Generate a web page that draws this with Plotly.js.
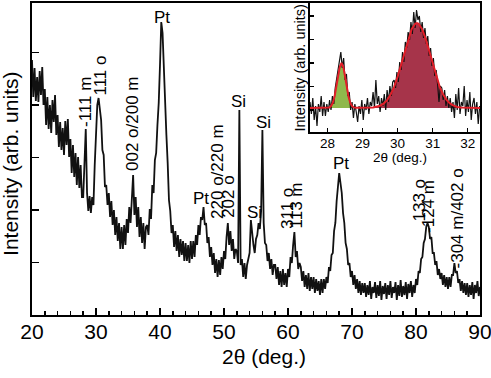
<!DOCTYPE html>
<html>
<head>
<meta charset="utf-8">
<script src="https://cdn.plot.ly/plotly-3.0.1.min.js"></script>
<style>
  html, body { margin: 0; padding: 0; background: #ffffff; }
  #chart { width: 491px; height: 378px; }
</style>
</head>
<body>
<div id="chart"></div>
<script>
// ---- Main XRD scan: 2θ from 20° to 90°, 0.2° step ----
const scanStart = 20;
const scanStep = 0.2;
const intensity = [
  255, 218, 247, 214, 238, 213, 244, 220, 248, 210,
  226, 190, 218, 186, 210, 182, 215, 193, 220, 180,
  200, 168, 193, 165, 187, 160, 194, 170, 196, 158,
  176, 142, 170, 138, 162, 130, 158, 127, 150, 118,
  118, 152, 186, 122, 104, 119, 102, 118, 110, 150,
  180, 210, 217, 205, 195, 165, 160, 128, 130, 110,
  122, 98, 114, 90, 105, 80, 98, 74, 92, 66,
  88, 66, 90, 70, 96, 82, 108, 92, 112, 140,
  100, 118, 88, 108, 78, 98, 72, 92, 66, 88,
  90, 80, 106, 96, 130, 122, 155, 162, 190, 212,
  250, 293, 282, 240, 218, 180, 152, 115, 104, 82,
  90, 68, 84, 64, 80, 58, 76, 60, 74, 54,
  72, 54, 70, 52, 74, 56, 74, 58, 80, 70,
  90, 80, 98, 95, 108, 90, 92, 72, 78, 58,
  68, 50, 62, 42, 56, 38, 55, 40, 58, 46,
  64, 56, 78, 92, 70, 84, 64, 76, 56, 66,
  64, 52, 205, 50, 56, 38, 52, 36, 50, 58,
  62, 95, 78, 70, 62, 76, 80, 92, 86, 104,
  185, 92, 72, 70, 54, 62, 46, 56, 40, 50,
  50, 36, 48, 30, 44, 28, 46, 30, 42, 28,
  46, 38, 58, 52, 70, 83, 58, 64, 46, 52,
  48, 34, 44, 28, 40, 26, 42, 24, 38, 26,
  38, 22, 36, 24, 34, 20, 36, 22, 36, 26,
  38, 32, 48, 44, 60, 62, 84, 92, 114, 128,
  142, 132, 122, 102, 92, 72, 66, 50, 52, 38,
  44, 30, 40, 26, 36, 22, 34, 20, 32, 22,
  32, 18, 30, 20, 34, 16, 28, 22, 33, 17,
  30, 19, 34, 15, 29, 21, 32, 16, 30, 20,
  34, 17, 28, 22, 33, 15, 30, 19, 35, 18,
  29, 20, 33, 16, 31, 22, 34, 18, 30, 22,
  36, 30, 44, 42, 56, 58, 72, 76, 88, 92,
  88, 76, 78, 62, 62, 50, 54, 40, 46, 36,
  42, 30, 40, 28, 38, 26, 38, 28, 40, 40,
  52, 42, 44, 32, 36, 24, 34, 22, 32, 20,
  32, 18, 30, 20, 33, 16, 30, 22, 34, 19,
  28
];

// Reflection labels
const peakLabelText = ['-111 m', '111 o', '002 o/200 m', 'Pt', 'Pt', '220 o/220 m', '202 o',
  'Si', 'Si', 'Si', '311 o', '113 m', 'Pt', '133 o', '-124 m', '-304 m/402 o'];
const peakLabelVertical = [true, true, true, false, false, true, true,
  false, false, false, true, true, false, true, true, true];

// ---- Inset: 27.5° to 32.34° scan, 0.04° step, with two-peak fit ----
const insetStart = 27.5;
const insetStep = 0.04;
const insetIntensity = [
  30, 18, 34, 12, 26, 6, 28, 20, 36, 16,
  30, 16, 28, 20, 32, 22, 36, 28, 44, 54,
  62, 72, 80, 64, 74, 52, 58, 36, 40, 22,
  30, 14, 28, 20, 10, 26, 18, 32, 12, 28,
  22, 34, 18, 30, 26, 40, 24, 52, 28, 36,
  20, 34, 26, 38, 22, 42, 30, 46, 36, 50,
  52, 44, 60, 50, 70, 62, 80, 70, 90, 84,
  100, 92, 110, 98, 120, 104, 122, 112, 116, 100,
  110, 94, 104, 88, 96, 76, 84, 66, 74, 56,
  62, 48, 30, 46, 44, 32, 42, 26, 36, 24,
  34, 20, 30, 14, 38, 22, 44, 18, 30, 26,
  46, 16, 32, 20, 40, 12, 28, 34, 18, 30, 8, 26
];
const fitBaseline = 24;
const fitRange = [27.5, 32.35];
const greenFitX = [28.0, 28.05, 28.1, 28.15, 28.2, 28.25, 28.3, 28.35, 28.4,
  28.45, 28.5, 28.55, 28.6, 28.65, 28.7, 28.75, 28.8];
const greenFitY = [24.2, 24.6, 26.0, 29.1, 35.2, 44.6, 55.8, 65.3, 69.0,
  65.3, 55.8, 44.6, 35.2, 29.1, 26.0, 24.6, 24.2];
const redFitX = [29.3, 29.4, 29.5, 29.6, 29.7, 29.8, 29.9, 30.0, 30.1, 30.2, 30.3, 30.4,
  30.5, 30.55, 30.6, 30.7, 30.8, 30.9, 31.0, 31.1, 31.2, 31.3, 31.4, 31.5, 31.6, 31.7, 31.8];
const redFitY = [24.5, 25.1, 26.3, 28.4, 31.9, 37.4, 45.2, 55.4, 67.7, 80.8, 93.2, 102.9,
  108.3, 109.0, 108.3, 102.9, 93.2, 80.8, 67.7, 55.4, 45.2, 37.4, 31.9, 28.4, 26.3, 25.1, 24.5];

// ---- styling / placement ----
const FONT = 'Liberation Sans, Arial, Helvetica, sans-serif';
const labelAnchors = [[28.28, 213], [30.55, 239], [35.63, 191], [40.31, 298], [46.4, 117],
  [48.9, 144], [50.6, 119], [52.34, 214], [54.77, 103], [56.1, 193], [59.84, 107],
  [61.4, 109.5], [68.28, 152], [80.39, 115], [81.95, 108.5], [86.48, 97]];

// closed polygon for a filled fit component sitting on the baseline
function filledArea(xs, ys) {
  return {
    x: xs.concat([xs[xs.length - 1], xs[0]]),
    y: ys.concat([fitBaseline, fitBaseline])
  };
}
const greenArea = filledArea(greenFitX, greenFitY);
const redArea = filledArea(redFitX, redFitY);
const fitLineX = [fitRange[0]].concat(greenFitX, redFitX, [fitRange[1]]);
const fitLineY = [fitBaseline].concat(greenFitY, redFitY, [fitBaseline]);

const traces = [
  {
    type: 'scatter', mode: 'lines', x0: scanStart, dx: scanStep, y: intensity,
    line: { color: '#111111', width: 1.8 }, xaxis: 'x', yaxis: 'y', hoverinfo: 'skip'
  },
  {
    type: 'scatter', mode: 'lines', x: greenArea.x, y: greenArea.y, fill: 'toself',
    fillcolor: 'rgb(143,184,76)', line: { width: 0 }, xaxis: 'x2', yaxis: 'y2'
  },
  {
    type: 'scatter', mode: 'lines', x: redArea.x, y: redArea.y, fill: 'toself',
    fillcolor: 'rgb(166,52,74)', line: { width: 0 }, xaxis: 'x2', yaxis: 'y2'
  },
  {
    type: 'scatter', mode: 'lines', x0: insetStart, dx: insetStep, y: insetIntensity,
    line: { color: '#111111', width: 1.2 }, xaxis: 'x2', yaxis: 'y2'
  },
  {
    type: 'scatter', mode: 'lines', x: fitLineX, y: fitLineY,
    line: { color: 'rgb(226,30,40)', width: 2 }, xaxis: 'x2', yaxis: 'y2'
  }
];

const annotations = peakLabelText.map((t, i) => ({
  text: t, x: labelAnchors[i][0], y: labelAnchors[i][1], xref: 'x', yref: 'y',
  showarrow: false, textangle: peakLabelVertical[i] ? -90 : 0,
  xanchor: 'center', yanchor: 'middle',
  font: { family: FONT, size: 17, color: '#000' }
}));

annotations.push(
  { text: '2θ (deg.)', xref: 'paper', yref: 'paper', x: 0.5179, y: -0.1346,
    xanchor: 'center', yanchor: 'middle', showarrow: false,
    font: { family: FONT, size: 21, color: '#000' } },
  { text: 'Intensity (arb. units)', xref: 'paper', yref: 'paper', x: -0.047, y: 0.484,
    xanchor: 'center', yanchor: 'middle', showarrow: false, textangle: -90,
    font: { family: FONT, size: 21, color: '#000' } },
  { text: '2θ (deg.)', xref: 'paper', yref: 'paper', x: 0.8214, y: 0.5064,
    xanchor: 'center', yanchor: 'middle', showarrow: false,
    font: { family: FONT, size: 13.5, color: '#000' } },
  { text: 'Intensity (arb. units)', xref: 'paper', yref: 'paper', x: 0.5982, y: 0.7933,
    xanchor: 'center', yanchor: 'middle', showarrow: false, textangle: -90,
    font: { family: FONT, size: 14.5, color: '#000' } }
);

const layout = {
  width: 491, height: 378,
  margin: { l: 32, r: 11, t: 3, b: 63, pad: 0 },
  paper_bgcolor: '#ffffff', plot_bgcolor: '#ffffff',
  showlegend: false,
  font: { family: FONT, color: '#000' },
  xaxis: {
    domain: [0, 1], range: [20, 90], tick0: 20, dtick: 10,
    ticks: 'inside', ticklen: 7, tickwidth: 1.5, tickcolor: '#000',
    minor: { dtick: 2, ticks: 'inside', ticklen: 4, tickwidth: 1.5, tickcolor: '#000' },
    showline: true, mirror: true, linecolor: '#000', linewidth: 2,
    showgrid: false, zeroline: false, ticklabeloverflow: 'allow',
    ticklabelstandoff: -3,
    tickfont: { family: FONT, size: 21, color: '#000' }
  },
  yaxis: {
    domain: [0, 1], range: [0, 312], tick0: 0, dtick: 52.5,
    ticks: 'inside', ticklen: 7, tickwidth: 1.5, tickcolor: '#000',
    showticklabels: false,
    showline: true, mirror: true, linecolor: '#000', linewidth: 2,
    showgrid: false, zeroline: false
  },
  xaxis2: {
    domain: [0.6205, 1], anchor: 'y2', range: fitRange,
    tickvals: [28, 29, 30, 31, 32],
    ticks: 'inside', ticklen: 4, tickwidth: 1.2, tickcolor: '#000',
    showline: true, mirror: true, linecolor: '#000', linewidth: 1.5,
    showgrid: false, zeroline: false, ticklabeloverflow: 'allow',
    ticklabelstandoff: -2,
    tickfont: { family: FONT, size: 13.5, color: '#000' }
  },
  yaxis2: {
    domain: [0.5865, 1], anchor: 'x2', range: [0, 129], tick0: 22, dtick: 23.5,
    ticks: 'inside', ticklen: 4, tickwidth: 1.2, tickcolor: '#000',
    showticklabels: false,
    showline: true, mirror: true, linecolor: '#000', linewidth: 1.5,
    showgrid: false, zeroline: false
  },
  annotations: annotations
};

Plotly.newPlot('chart', traces, layout, { staticPlot: true, displayModeBar: false });
</script>
</body>
</html>
